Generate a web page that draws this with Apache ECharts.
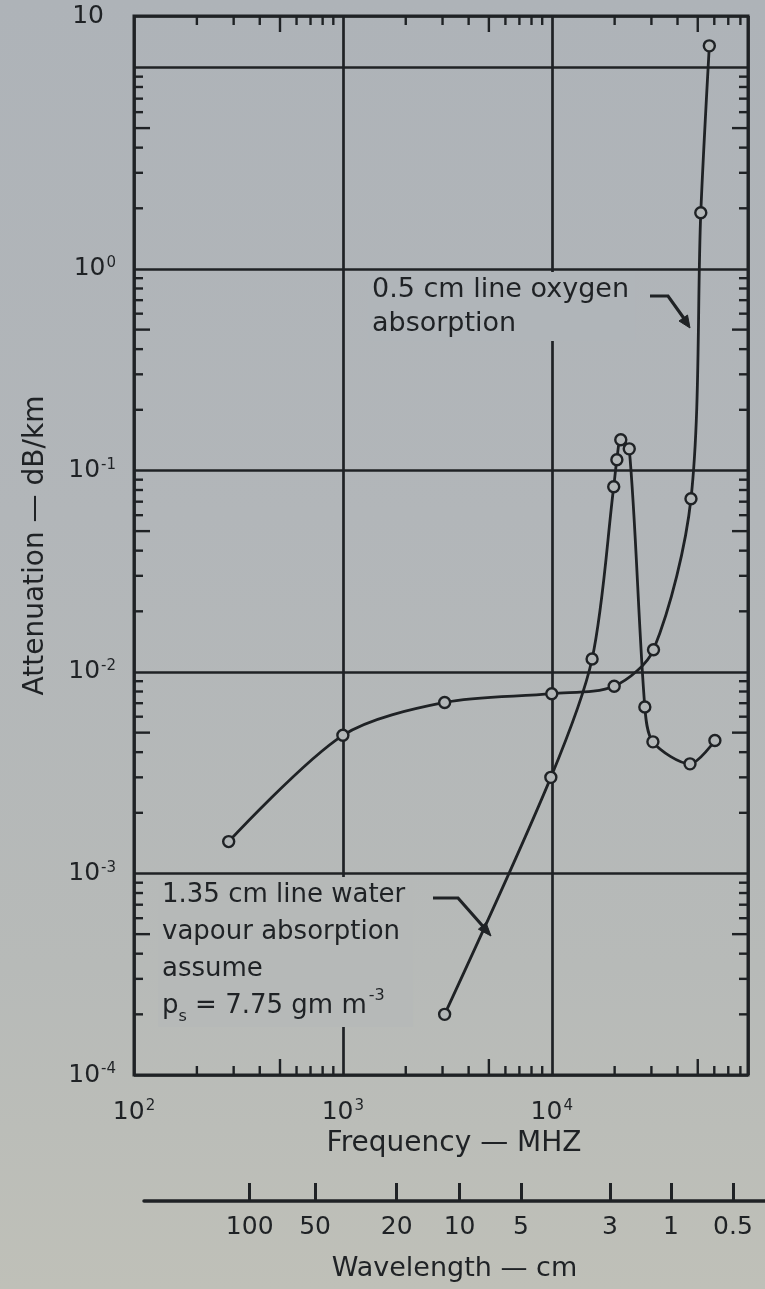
<!DOCTYPE html>
<html>
<head>
<meta charset="utf-8">
<script src="https://cdn.jsdelivr.net/npm/echarts@6/dist/echarts.min.js"></script>
<style>
html,body{margin:0;padding:0;}
#chart{width:765px;height:1289px;background:linear-gradient(to bottom,#aeb3b8 0%,#b2b6b9 40%,#b7bab8 75%,#bfc0b8 100%);}
</style>
</head>
<body>
<div id="chart"></div>
<script>
// ---------------- data ----------------
// 0.5 cm line oxygen absorption curve
const oxygenFreqMHz = [284, 1000, 3070, 10000, 19900, 30700, 46400, 51700, 56800];
const oxygenAttDbKm = [0.00144, 0.00485, 0.00706, 0.0078, 0.0085, 0.0129, 0.0724, 1.9, 12.8];
// 1.35 cm line water vapour absorption curve
const waterFreqMHz = [3070, 9900, 15600, 19800, 20500, 21400, 23500, 27900, 30500, 45900, 60400];
const waterAttDbKm = [0.0002, 0.003, 0.0116, 0.083, 0.113, 0.142, 0.128, 0.0067, 0.0045, 0.0035, 0.00457];
// tick labels
const xLabelExponents = ['2', '3', '4'];
const yLabelExponents = ['-4', '-3', '-2', '-1', '0'];
const yTopLabel = '10';
// secondary wavelength scale (positions as drawn, in MHz on the frequency scale)
const wavelengthTickFreqMHz = [358, 736, 1810, 3620, 7120, 19000, 37200, 73700];
const wavelengthLabelsCm = ['100', '50', '20', '10', '5', '3', '1', '0.5'];
const minorMultipliers = [2, 3, 4, 5, 6, 7, 8, 9];

// ---------------- styling / layout ----------------
const FONT = "'DejaVu Sans', 'Liberation Sans', Arial, sans-serif";
const INK = '#1f2225';
const X_MIN = 100, X_MAX = 87000, Y_MIN = 1e-4, Y_MAX = 18;
const G = { left: 134, right: 17, top: 16, bottom: 214 };
const W = 765;
const pxPerDecade = (W - G.left - G.right) / Math.log10(X_MAX / X_MIN);
const WL_LEFT = 144;
const wlMin = X_MIN * Math.pow(10, (WL_LEFT - G.left) / pxPerDecade);
const wlMax = X_MIN * Math.pow(10, (W - G.left) / pxPerDecade);

const isPow10 = v => Math.abs(Math.log10(v) - Math.round(Math.log10(v))) < 1e-6;

// minor ticks 2..9 in each decade
const minorTickData = [];
[100, 1000, 10000].forEach(d => minorMultipliers.forEach(m => {
  const v = d * m; if (v < X_MAX) minorTickData.push([v, 1, 0, m === 5 ? 1 : 0]);
}));
[1e-4, 1e-3, 1e-2, 1e-1, 1, 10].forEach(d => minorMultipliers.forEach(m => {
  const v = d * m; if (v < Y_MAX) minorTickData.push([1000, v, 1, m === 5 ? 1 : 0]);
}));

const richLabel = {
  b: { fontSize: 25, fontFamily: FONT, color: INK },
  t: { fontSize: 25, fontFamily: FONT, color: INK, padding: [0, 12, 0, 0] },
  s: { fontSize: 15, fontFamily: FONT, color: INK, verticalAlign: 'top', padding: [0, 0, 11, 1] }
};

const chart = echarts.init(document.getElementById('chart'), null, { renderer: 'canvas' });

const markerStyle = { color: '#b3b7b8', borderColor: INK, borderWidth: 2.4 };

chart.setOption({
  animation: false,
  backgroundColor: 'transparent',
  grid: [
    { left: G.left, right: G.right, top: G.top, bottom: G.bottom, show: true,
      borderColor: INK, borderWidth: 3, backgroundColor: 'transparent' },
    { left: WL_LEFT, right: 0, top: 1200, height: 1 }
  ],
  xAxis: [
    {
      type: 'log', gridIndex: 0, min: X_MIN, max: X_MAX, logBase: 10,
      axisLine: { show: false }, axisTick: { show: false },
      splitLine: { show: true, lineStyle: { color: INK, width: 2.7 } },
      axisLabel: {
        margin: 24, rich: richLabel,
        formatter: v => {
          if (!isPow10(v)) return '';
          const e = String(Math.round(Math.log10(v)));
          return xLabelExponents.indexOf(e) >= 0 ? '{b|10}{s|' + e + '}' : '';
        }
      },
      name: 'Frequency — MHZ', nameLocation: 'middle', nameGap: 54,
      nameTextStyle: { fontSize: 28, fontFamily: FONT, color: INK, padding: [0, 0, 0, 26] }
    },
    {
      type: 'log', gridIndex: 1, min: wlMin, max: wlMax, logBase: 10, position: 'bottom',
      axisLine: { show: true, lineStyle: { color: INK, width: 3.5 } },
      axisTick: { show: true, inside: true, length: 18, lineStyle: { color: INK, width: 3 },
        customValues: wavelengthTickFreqMHz },
      axisLabel: {
        margin: 14, fontSize: 25, fontFamily: FONT, color: INK,
        customValues: wavelengthTickFreqMHz,
        formatter: (v) => {
          let best = 0, bd = Infinity;
          wavelengthTickFreqMHz.forEach((f, i) => { const d = Math.abs(Math.log10(f) - Math.log10(v)); if (d < bd) { bd = d; best = i; } });
          return wavelengthLabelsCm[best];
        }
      },
      splitLine: { show: false },
      name: 'Wavelength — cm', nameLocation: 'middle', nameGap: 54,
      nameTextStyle: { fontSize: 27, fontFamily: FONT, color: INK }
    }
  ],
  yAxis: [
    {
      type: 'log', gridIndex: 0, min: Y_MIN, max: Y_MAX, logBase: 10,
      axisLine: { show: false }, axisTick: { show: false },
      splitLine: { show: true, lineStyle: { color: INK, width: 2.7 } },
      axisLabel: {
        margin: 18, rich: richLabel,
        formatter: v => {
          if (!isPow10(v)) return v > 10 ? '{t|' + yTopLabel + '}' : '';
          const e = String(Math.round(Math.log10(v)));
          return yLabelExponents.indexOf(e) >= 0 ? '{b|10}{s|' + e + '}' : '';
        }
      },
      name: 'Attenuation — dB/km', nameLocation: 'middle', nameGap: 84,
      nameTextStyle: { fontSize: 28, fontFamily: FONT, color: INK }
    },
    { type: 'value', gridIndex: 1, show: false }
  ],
  series: [
    {
      type: 'custom', xAxisIndex: 0, yAxisIndex: 0, silent: true, clip: false, z: 3,
      data: minorTickData,
      renderItem: (params, api) => {
        const cs = params.coordSys;
        const p = api.coord([api.value(0), api.value(1)]);
        const kind = api.value(2);
        const len = api.value(3) ? 16 : 9;
        const st = () => ({ stroke: INK, lineWidth: 2.4 });
        if (kind === 0) {
          return { type: 'group', children: [
            { type: 'line', shape: { x1: p[0], y1: cs.y + cs.height, x2: p[0], y2: cs.y + cs.height - len }, style: st() },
            { type: 'line', shape: { x1: p[0], y1: cs.y, x2: p[0], y2: cs.y + len }, style: st() }
          ] };
        }
        return { type: 'group', children: [
          { type: 'line', shape: { x1: cs.x, y1: p[1], x2: cs.x + len, y2: p[1] }, style: st() },
          { type: 'line', shape: { x1: cs.x + cs.width, y1: p[1], x2: cs.x + cs.width - len, y2: p[1] }, style: st() }
        ] };
      }
    },
    {
      name: '0.5 cm line oxygen absorption', type: 'line', xAxisIndex: 0, yAxisIndex: 0,
      data: oxygenFreqMHz.map((f, i) => [f, oxygenAttDbKm[i]]),
      smooth: 0.3, symbol: 'circle', symbolSize: 11, z: 5,
      lineStyle: { color: INK, width: 2.8 }, itemStyle: markerStyle
    },
    {
      name: '1.35 cm line water vapour absorption', type: 'line', xAxisIndex: 0, yAxisIndex: 0,
      data: waterFreqMHz.map((f, i) => [f, waterAttDbKm[i]]),
      smooth: 0.3, symbol: 'circle', symbolSize: 11, z: 5,
      lineStyle: { color: INK, width: 2.8 }, itemStyle: markerStyle
    }
  ],
  graphic: [
    { type: 'text', left: 368, top: 272, z: 50,
      style: { text: '0.5 cm line oxygen\nabsorption', font: '27px ' + FONT, fill: INK, lineHeight: 34,
        backgroundColor: '#b0b5b9', padding: [1, 6, 0, 4] } },
    { type: 'polyline', z: 50, shape: { points: [[650, 296], [668, 296], [688, 324]] },
      style: { stroke: INK, lineWidth: 3.2, fill: null } },
    { type: 'polygon', z: 50, shape: { points: [[690, 328], [679, 321], [687.5, 315]] },
      style: { fill: INK, stroke: INK, lineWidth: 1 } },
    { type: 'text', left: 158, top: 877, z: 50,
      style: { text: '1.35 cm line water\nvapour absorption\nassume\np{sub|s} = 7.75 gm m{sup|-3}',
        font: '26px ' + FONT, fill: INK, lineHeight: 37,
        rich: {
          sub: { fontSize: 16, fontFamily: FONT, fill: INK, verticalAlign: 'bottom', padding: [10, 0, 0, 0] },
          sup: { fontSize: 16, fontFamily: FONT, fill: INK, verticalAlign: 'top', padding: [0, 0, 12, 2] }
        },
        backgroundColor: '#b6b9b8', padding: [0, 8, 2, 4] } },
    { type: 'polyline', z: 50, shape: { points: [[433, 898], [458, 898], [488, 932]] },
      style: { stroke: INK, lineWidth: 3.2, fill: null } },
    { type: 'polygon', z: 50, shape: { points: [[491, 936], [478.4, 929.2], [486, 922.6]] },
      style: { fill: INK, stroke: INK, lineWidth: 1 } }
  ]
});
</script>
</body>
</html>
